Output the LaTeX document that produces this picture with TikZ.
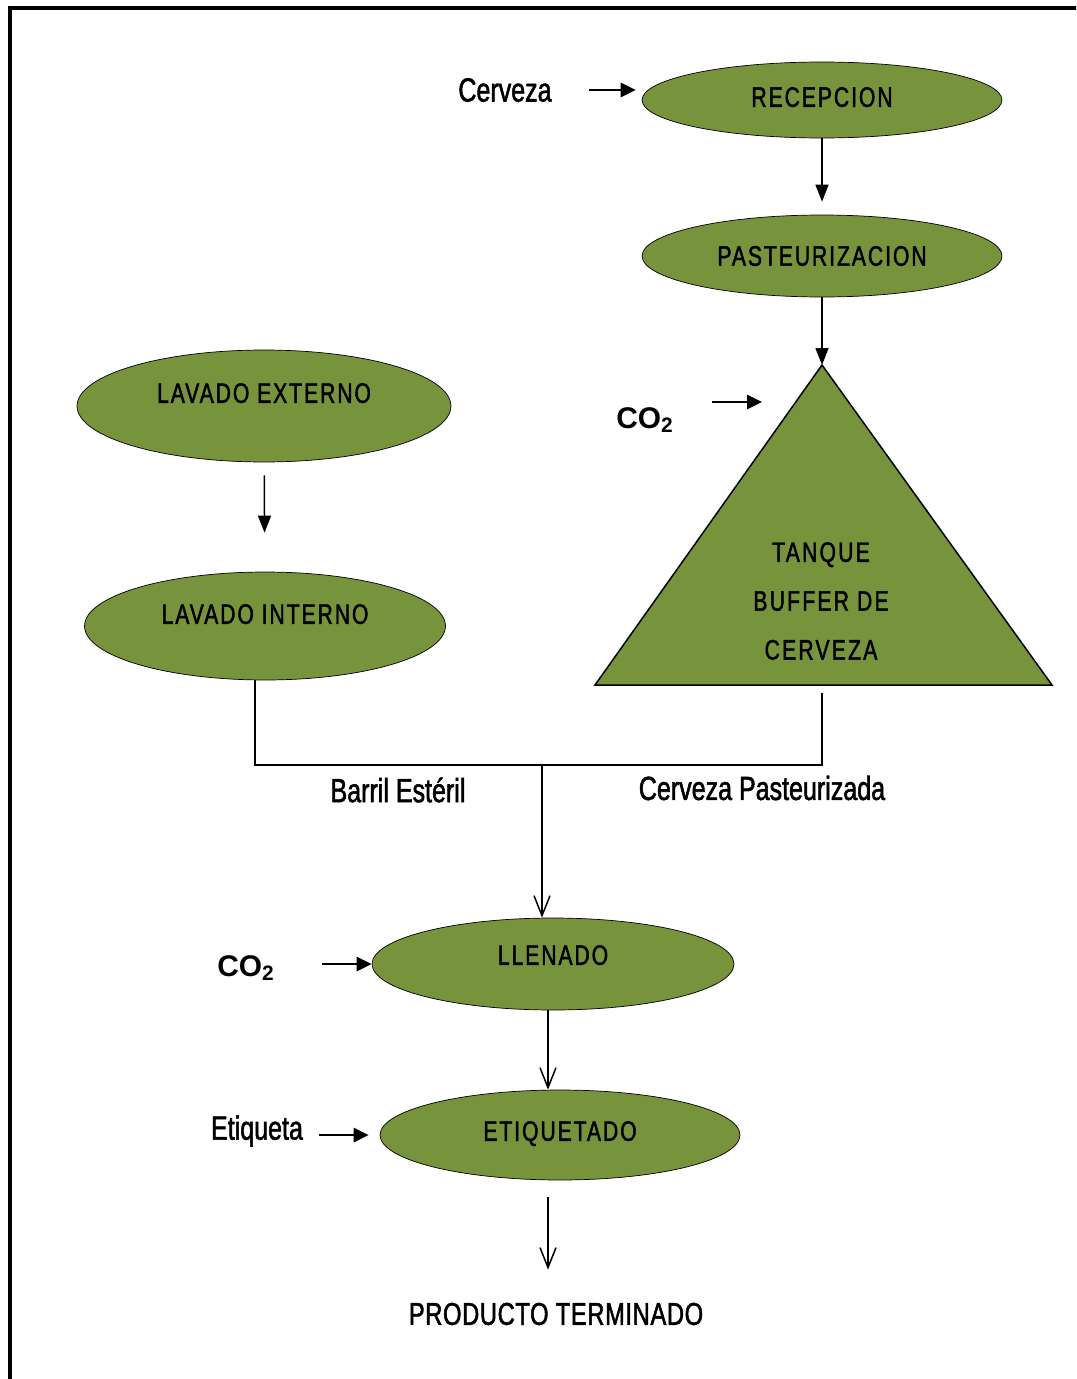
\documentclass[tikz,border=0pt]{standalone}
\usepackage{fontspec}
\setmainfont{Liberation Sans}[FakeStretch=0.75, FakeBold=1.6]
\newfontfamily\gasfont{Liberation Sans}
\usepackage{xcolor}
\usepackage{tikz}
\usetikzlibrary{positioning,arrows.meta,shapes.geometric}
\definecolor{verdeoliva}{RGB}{119,147,60}

\begin{document}
\begin{tikzpicture}[x=0.02cm, y=-0.02cm,
    etapa/.style={ellipse, draw=black, fill=verdeoliva, inner sep=0pt, font=\fontsize{16}{19}\selectfont\addfontfeature{LetterSpace=7}},
    rotulo/.style={font=\fontsize{19}{22}\selectfont},
    gas/.style={font=\gasfont\bfseries\fontsize{17}{20}\selectfont},
    flecha/.style={-{Triangle[length=0.3cm, width=0.28cm]}, line width=1.6pt},
    baja/.style={-{Triangle[length=0.34cm, width=0.26cm]}, line width=0.85pt},
    bajav/.style={-{Straight Barb[length=0.4cm, width=0.32cm]}, line width=0.85pt}]
\clip (0,0) rectangle (1076,1379);
\draw[line width=0.08cm] (1100,8) -- (10,8) -- (10,1400);

\node[etapa, minimum width=7.2cm, minimum height=1.52cm, text depth=0.12cm] (recepcion) at (822,100) {RECEPCION};
\node[etapa, minimum width=7.2cm, minimum height=1.64cm] (pasteurizacion) at (822,256) {PASTEURIZACION};
\node[etapa, minimum width=7.48cm, minimum height=2.24cm, text depth=0.52cm] (lav_ext) at (264,406) {LAVADO EXTERNO};
\node[etapa, minimum width=7.22cm, minimum height=2.16cm, text depth=0.48cm] (lav_int) at (265,626) {LAVADO INTERNO};
\node[etapa, minimum width=7.24cm, minimum height=1.84cm, text depth=0.36cm] (llenado) at (553,964) {LLENADO};
\node[etapa, minimum width=7.2cm, minimum height=1.8cm, text depth=0.16cm] (etiquetado) at (560,1135) {ETIQUETADO};

% tanque buffer
\coordinate (tq_top) at (822,365);
\coordinate (tq_der) at (1052,685);
\coordinate (tq_izq) at (595,685);
\draw[fill=verdeoliva, line width=0.85pt] (tq_top) -- (tq_der) -- (tq_izq) -- cycle;
\node[align=center, font=\fontsize{16}{27.8}\selectfont\addfontfeature{LetterSpace=8}] (tanque) at (821,601) {TANQUE\\BUFFER DE\\CERVEZA};
\coordinate (tq_base) at (822,693);
\coordinate (union) at (542,765);

\node[rotulo] (in_cerveza) at (505,90) {Cerveza};
\node[gas] (co2_a) at (645,420) {CO\textsubscript{2}};
\coordinate (co2_a_fin) at (762,402);
\node[gas] (co2_b) at (246,968) {CO\textsubscript{2}};
\node[rotulo] (in_etiqueta) at (257,1131) {Etiqueta};
\node[rotulo] (barril) at (398,790) {Barril Estéril};
\node[rotulo] (cerveza_past) at (762,788) {Cerveza Pasteurizada};
\node[font=\fontsize{18}{21}\selectfont\addfontfeature{LetterSpace=2}] (producto) at (556,1314) {PRODUCTO TERMINADO};
\coordinate (eje) at (548,1100);

\draw[flecha, shorten <=0.62cm, shorten >=0.12cm] (in_cerveza.east) -- (in_cerveza.east -| recepcion.west);
\draw[baja, shorten >=0.26cm] (recepcion) -- (pasteurizacion);
\draw[baja] (pasteurizacion) -- (tq_top);
\draw[flecha, shorten <=0.64cm] (co2_a.east |- co2_a_fin) -- (co2_a_fin);
\draw[baja, shorten <=0.26cm, shorten >=0.78cm] (lav_ext) -- (lav_int);
\draw[line width=0.85pt] ([xshift=-0.2cm]lav_int.south) |- (union) -| (tq_base);
\draw[bajav] (union) -- (union |- llenado.north);
\draw[flecha, shorten <=0.82cm] (co2_b.east |- llenado.west) -- (llenado.west);
\draw[bajav] (llenado.south -| eje) -- (etiquetado.north -| eje);
\draw[flecha, shorten <=0.2cm, shorten >=0.22cm] (in_etiqueta.east |- etiquetado.west) -- (etiquetado.west);
\draw[bajav, shorten <=0.34cm, shorten >=0.54cm] (etiquetado.south -| eje) -- (producto.north -| eje);

\end{tikzpicture}
\end{document}
